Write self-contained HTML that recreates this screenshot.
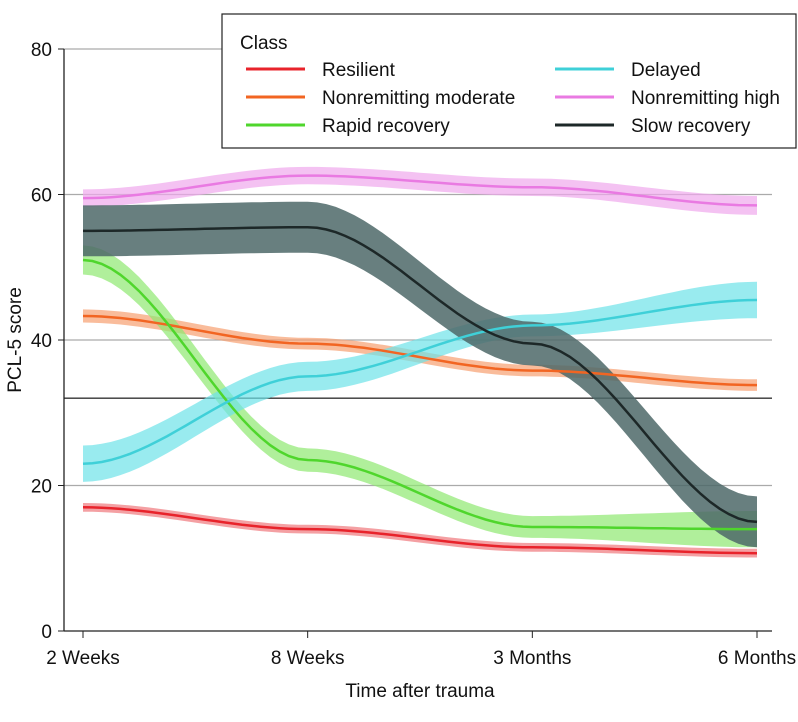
<!DOCTYPE html>
<html><head><meta charset="utf-8"><style>
body{margin:0;background:#fff;}
svg{font-family:"Liberation Sans",sans-serif;}
</style></head><body>
<svg id="chart" width="798" height="717">
<g id="grid"></g><g id="bands"></g><g id="lines"></g><g id="axes"></g>
<g>
<rect x="222" y="14" width="574" height="134" fill="#fff" stroke="#222" stroke-width="1.2"/>
<text x="240" y="49" font-size="19" fill="#111">Class</text>
<g id="legend"></g>
</g>
<text x="420" y="697" font-size="19" text-anchor="middle" fill="#111">Time after trauma</text>
<text transform="translate(21,340) rotate(-90)" font-size="19" text-anchor="middle" fill="#111">PCL-5 score</text>
</svg>
<script>
const categories=["2 Weeks","8 Weeks","3 Months","6 Months"];
const yTicks=[0,20,40,60,80];
const refLine=32;
const names=["Resilient","Nonremitting moderate","Rapid recovery","Delayed","Nonremitting high","Slow recovery"];
const resilient=[17,14,11.5,10.7];
const moderate=[43.3,39.5,35.8,33.8];
const rapid=[51,23.5,14.3,14];
const delayed=[23,35,42,45.5];
const high=[59.5,62.6,61,58.5];
const slow=[55,55.5,39.5,15];
const resilientCI=[0.6,0.6,0.6,0.6];
const moderateCI=[0.9,0.8,0.8,0.8];
const rapidCI=[2,1.6,1.5,2.5];
const delayedCI=[2.5,2,1.5,2.5];
const highCI=[1.2,1.2,1.2,1.3];
const slowCI=[3.5,3.5,3,3.5];
const series=[resilient,moderate,rapid,delayed,high,slow];
const cis=[resilientCI,moderateCI,rapidCI,delayedCI,highCI,slowCI];
const colors=["#e8232b","#f26522","#4fd62c","#3fd0d8","#e97ae2","#1d2828"];
const bandColors=["#f0787c","#f7a070","#8fe870","#6ee2e8","#f0a8ec","#4e6868"];
const keys=["resilient","nonremitting-moderate","rapid-recovery","delayed","nonremitting-high","slow-recovery"];
const NS="http://www.w3.org/2000/svg";
const X=i=>83+i*(757-83)/(categories.length-1);
const Y=v=>631-v*(631-49)/80;
function curve(vals){const pts=[];for(let i=0;i<vals.length-1;i++){for(let k=0;k<=24;k++){if(i>0&&k==0)continue;const t=k/24,s=3*t*t-2*t*t*t;pts.push([X(i+t),Y(vals[i]+(vals[i+1]-vals[i])*s)]);}}return pts;}
function mk(tag,attrs,parent){const e=document.createElementNS(NS,tag);for(const a in attrs)e.setAttribute(a,attrs[a]);document.getElementById(parent).appendChild(e);return e;}
yTicks.forEach(v=>{if(v>0){const g=mk("line",{x1:64,x2:772,y1:Y(v),y2:Y(v),stroke:"#aaa","stroke-width":1.3},"grid");

}
const t=mk("text",{x:52,y:Y(v)+7,"font-size":19,"text-anchor":"end",fill:"#111"},"axes");t.textContent=v;


mk("line",{x1:58,x2:64,y1:Y(v),y2:Y(v),stroke:"#222"},"axes");});
const rl=mk("line",{x1:64,x2:772,y1:Y(refLine),y2:Y(refLine),stroke:"#333","stroke-width":1.3},"grid");


mk("line",{x1:64,x2:64,y1:49,y2:631,stroke:"#222","stroke-width":1.3},"axes");
mk("line",{x1:64,x2:772,y1:631,y2:631,stroke:"#222","stroke-width":1.3},"axes");
categories.forEach((c,i)=>{mk("line",{x1:X(i),x2:X(i),y1:631,y2:638,stroke:"#222"},"axes");
const t=mk("text",{x:X(i),y:664,"font-size":19,"text-anchor":"middle",fill:"#111"},"axes");t.textContent=c;

});
const toD=p=>p.map((q,i)=>(i?"L":"M")+q[0].toFixed(1)+","+q[1].toFixed(1)).join("");
series.forEach((s,j)=>{const up=curve(s.map((v,i)=>v+cis[j][i])),lo=curve(s.map((v,i)=>v-cis[j][i])).reverse();
const b=mk("path",{d:toD(up.concat(lo))+"Z",fill:bandColors[j],"fill-opacity":j==5?0.85:0.7},"bands");


const l=mk("path",{d:toD(curve(s)),fill:"none",stroke:colors[j],"stroke-width":2.5},"lines");


const col=j<3?0:1,row=j%3,lx=col?555:246,ly=69+row*28;
const ll=mk("line",{x1:lx,x2:lx+59,y1:ly,y2:ly,stroke:colors[j],"stroke-width":3},"legend");


const lt=mk("text",{x:lx+76,y:ly+7,"font-size":19,fill:"#111"},"legend");lt.textContent=names[j];

});
</script>
</body></html>
